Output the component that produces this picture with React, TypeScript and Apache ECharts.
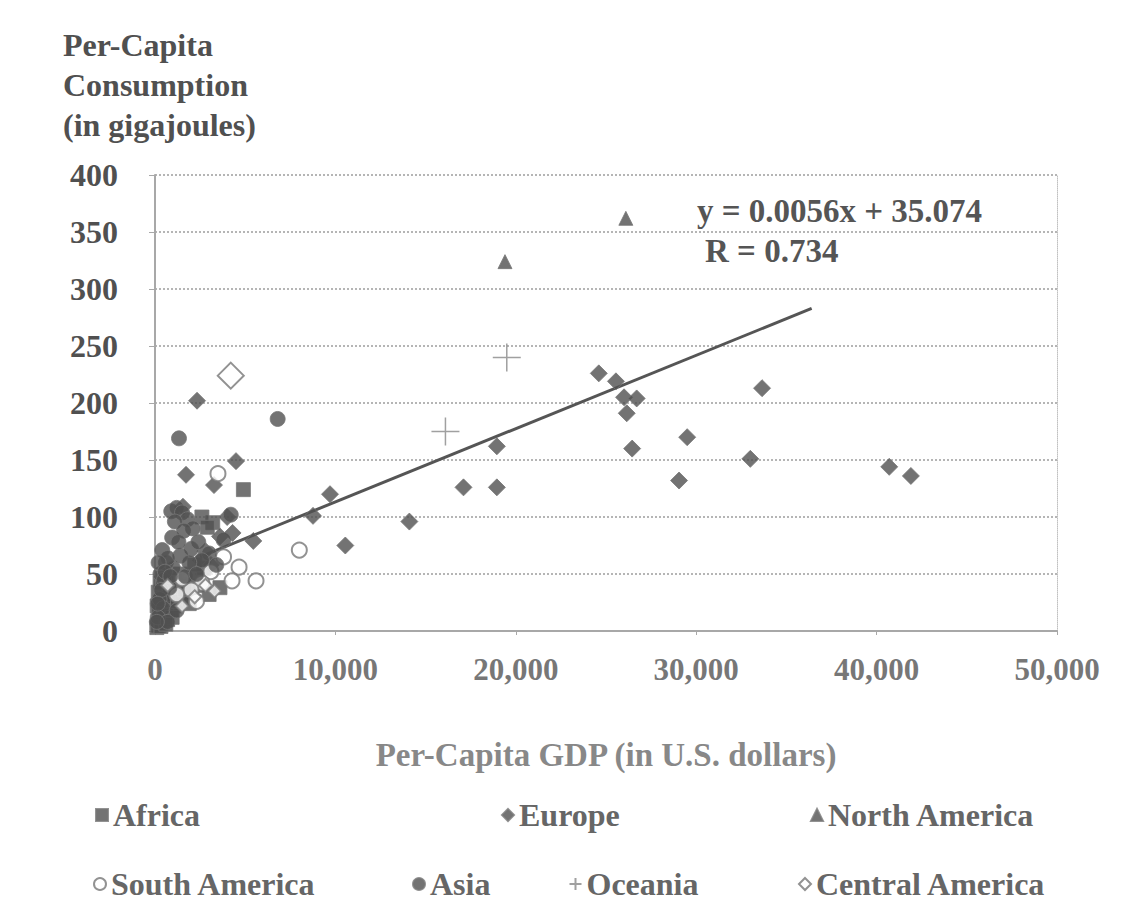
import React, { useEffect, useRef } from "react";
import * as echarts from "echarts";

const xTicks = [0, 10000, 20000, 30000, 40000, 50000];
const yTicks = [0, 50, 100, 150, 200, 250, 300, 350, 400];

const africa: number[][] = [
  [200, 5], [300, 12], [400, 8], [500, 15], [600, 20], [700, 10], [800, 25], [900, 18],
  [1000, 30], [1100, 22], [1300, 35], [1500, 28], [1800, 40], [2000, 33], [2300, 48],
  [2700, 55], [3200, 95], [3000, 32], [3600, 38], [4900, 124], [2600, 100], [2900, 91],
  [100, 3], [250, 18], [350, 26], [450, 32], [550, 38], [650, 14], [750, 30], [850, 42],
  [950, 12], [1150, 44], [1250, 26], [1400, 50], [1650, 36], [1900, 24], [2200, 58],
  [2500, 40], [120, 22], [180, 34], [280, 42], [420, 46], [330, 4], [600, 6],
];
const europe: number[][] = [
  [2330, 202], [4490, 149], [1720, 137], [3270, 128], [5450, 79], [8760, 101], [9700, 120],
  [10550, 75], [14100, 96], [17100, 126], [18950, 126], [18950, 162], [24600, 226],
  [25550, 219], [26000, 205], [26700, 204], [26150, 191], [26450, 160], [29500, 170],
  [29050, 132], [33650, 213], [33000, 151], [40700, 144], [41900, 136], [4000, 100],
  [3600, 83], [2800, 70], [1550, 109], [4300, 86], [2500, 62], [3100, 58],
];
const northAmerica: number[][] = [[19400, 324], [26100, 362]];
const southAmerica: number[][] = [
  [3490, 138], [8000, 71], [4660, 56], [4270, 44], [5600, 44], [3100, 52], [2600, 42],
  [2000, 36], [1500, 46], [1200, 32], [3800, 65], [2300, 26],
];
const asia: number[][] = [
  [1330, 169], [6800, 186], [900, 105], [1200, 108], [1500, 104], [1800, 98], [2100, 90],
  [950, 82], [400, 71], [600, 60], [300, 50], [500, 45], [800, 38], [250, 28], [450, 20],
  [150, 12], [700, 8], [1000, 55], [1400, 66], [2000, 72], [2400, 78], [3000, 68],
  [3400, 58], [3800, 80], [4200, 102], [2600, 62], [1700, 48], [1200, 18],
  [1100, 96], [1600, 88], [700, 64], [200, 60], [1300, 78], [1900, 60], [2300, 50],
  [550, 52], [850, 48], [350, 36], [150, 24], [100, 8],
];
const oceania: number[][] = [[19500, 240], [16100, 175]];
const centralAmerica: number[][] = [[4200, 224], [1500, 22], [2200, 30], [700, 40], [2800, 40], [3300, 35]];
const trendLine: number[][] = [[2500, 65], [36400, 283]];

const equationText = "y = 0.0056x + 35.074";
const rText = "R = 0.734";

const FONT = "'Liberation Serif', 'DejaVu Serif', serif";
const DARK = "#505050";

export default function App() {
  const ref = useRef<HTMLDivElement>(null);
  useEffect(() => {
    document.body.style.margin = "0";
    const chart = echarts.init(ref.current!, undefined, { renderer: "svg" });
    const legendText = { fontFamily: FONT, fontWeight: "bold" as const, fontSize: 32, color: "#666" };
    const mkLegend = (name: string, left: number, top: number) => ({
      data: [name], left, top, itemWidth: 12, itemHeight: 12, textStyle: legendText,
      selectedMode: false,
    });
    const filled = { color: DARK, borderColor: "#777", borderWidth: 1 };
    chart.setOption({
      animation: false,
      backgroundColor: "#fff",
      grid: { left: 155, right: 81, top: 175, bottom: 290 },
      xAxis: {
        type: "value", min: xTicks[0], max: xTicks[xTicks.length - 1], interval: 10000,
        axisLine: { lineStyle: { color: "#a8a8a8", width: 2 } },
        axisTick: { show: true, length: 4, lineStyle: { color: "#a8a8a8" } },
        splitLine: { show: false },
        axisLabel: {
          margin: 23, fontFamily: FONT, fontWeight: "bold", fontSize: 31, color: "#777",
          formatter: (v: number) => v.toLocaleString("en-US"),
        },
        name: "Per-Capita GDP (in U.S. dollars)", nameLocation: "middle", nameGap: 107,
        nameTextStyle: { fontFamily: FONT, fontWeight: "bold", fontSize: 33, color: "#888" },
      },
      yAxis: [
        {
          type: "value", min: yTicks[0], max: yTicks[yTicks.length - 1], interval: 50,
          axisLine: { show: true, lineStyle: { color: "#a8a8a8", width: 2 } },
          axisTick: { show: true, length: 6, lineStyle: { color: "#a8a8a8" } },
          splitLine: { show: true, lineStyle: { color: "#b5b5b5", type: "dotted", width: 2 } },
          axisLabel: { margin: 37, fontFamily: FONT, fontWeight: "bold", fontSize: 32, color: DARK },
        },
        {
          type: "value", position: "right", min: 0, max: 400, interval: 50,
          axisLine: { show: true, lineStyle: { color: "#c0c0c0", type: "dotted", width: 1 } },
          axisTick: { show: false }, axisLabel: { show: false }, splitLine: { show: false },
        },
      ],
      legend: [
        mkLegend("Africa", 90, 794),
        mkLegend("Europe", 496, 794),
        mkLegend("North America", 805, 794),
        mkLegend("South America", 88, 863),
        mkLegend("Asia", 407, 863),
        mkLegend("Oceania", 562, 863),
        mkLegend("Central America", 793, 863),
      ],
      graphic: [
        {
          type: "text", left: 63, top: 25,
          style: {
            text: "Per-Capita\nConsumption\n(in gigajoules)", fontFamily: FONT, fontWeight: "bold",
            fontSize: 32, lineHeight: 40, fill: DARK,
          },
        },
        { type: "text", left: 697, top: 194, style: { text: equationText, fontFamily: FONT, fontWeight: "bold", fontSize: 33, fill: "#555" } },
        { type: "text", left: 705, top: 234, style: { text: rText, fontFamily: FONT, fontWeight: "bold", fontSize: 33, fill: "#555" } },
      ],
      series: [
        { name: "Trend", type: "line", data: trendLine, symbol: "none", lineStyle: { color: "#555", width: 3 }, z: 1 },
        { name: "Africa", type: "scatter", symbol: "rect", symbolSize: 14, data: africa, itemStyle: filled },
        { name: "Europe", type: "scatter", symbol: "diamond", symbolSize: 17, data: europe, itemStyle: filled },
        { name: "North America", type: "scatter", symbol: "triangle", symbolSize: 14, data: northAmerica, itemStyle: filled },
        { name: "South America", type: "scatter", symbol: "circle", symbolSize: 15, data: southAmerica, itemStyle: { color: "#fff", borderColor: "#777", borderWidth: 2 } },
        { name: "Asia", type: "scatter", symbol: "circle", symbolSize: 15, data: asia, itemStyle: filled },
        {
          name: "Oceania", type: "scatter", symbol: "path://M0,10L20,10M10,0L10,20", symbolSize: 28,
          data: oceania, itemStyle: { color: "none", borderColor: "#888", borderWidth: 1.5 },
        },
        {
          name: "Central America", type: "scatter", symbol: "diamond",
          symbolSize: (v: number[]) => (v[1] > 200 ? 26 : 13),
          data: centralAmerica, itemStyle: { color: "#fff", borderColor: "#777", borderWidth: 2 },
        },
      ],
    });
    return () => chart.dispose();
  }, []);
  return <div ref={ref} style={{ width: 1138, height: 921 }} />;
}
